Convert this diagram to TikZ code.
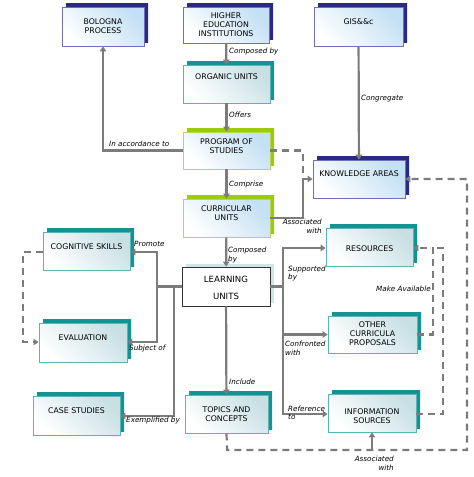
\documentclass[tikz,border=0pt]{standalone}
\usepackage{fontspec}
\setmainfont{DejaVu Sans}
\usetikzlibrary{arrows.meta,shadows}
\definecolor{navyS}{HTML}{2A2A86}
\definecolor{navyB}{HTML}{7070B8}
\definecolor{blueF}{HTML}{C4E0F4}
\definecolor{tealS}{HTML}{139393}
\definecolor{tealB}{HTML}{5AB6B6}
\definecolor{tealF}{HTML}{C8E0E4}
\definecolor{greenS}{HTML}{9ACC0A}
\definecolor{greenB}{HTML}{B8D850}
\definecolor{glowS}{HTML}{CFE6E8}
\definecolor{lineC}{HTML}{7C7C7C}
\tikzset{
  boxbase/.style={rectangle, inner sep=0pt, line width=0.8pt, top color=#1, bottom color=white, shading angle=-45},
  navybox/.style={boxbase=blueF, draw=navyB, copy shadow={shadow xshift=4pt, shadow yshift=3.5pt, fill=navyS, draw=none, top color=navyS, bottom color=navyS}},
  tealbox/.style={boxbase=tealF, draw=tealB, copy shadow={shadow xshift=4pt, shadow yshift=3.5pt, fill=tealS, draw=none, top color=tealS, bottom color=tealS}},
  greenbox/.style={boxbase=blueF, draw=greenB, copy shadow={shadow xshift=4pt, shadow yshift=3.5pt, fill=greenS, draw=none, top color=greenS, bottom color=greenS}},
  plainbox/.style={rectangle, inner sep=0pt, draw=black!80, line width=0.8pt, fill=white, copy shadow={shadow xshift=4pt, shadow yshift=3.5pt, fill=glowS, draw=none}},
  boxtext/.style={align=center, inner sep=0pt, font=\fontsize{7.8}{9}\selectfont},
  lbl/.style={inner sep=0pt, font=\fontsize{7.2}{8.6}\selectfont\itshape},
  conn/.style={draw=lineC, line width=2.2pt},
  arr/.style={conn, -{Triangle[length=5pt,width=6.5pt]}},
  dsh/.style={conn, dash pattern=on 7pt off 5pt},
  darr/.style={dsh, -{Triangle[length=5pt,width=6.5pt]}}
}
\begin{document}
\begin{tikzpicture}[x=1pt,y=-1pt]
\useasboundingbox (0,0) rectangle (474,477);
% boxes
\node[navybox, minimum width=82pt, minimum height=39pt] (bologna) at (103,26.5) {};
\node[navybox, minimum width=86pt, minimum height=36pt] (hei) at (226,25) {};
\node[tealbox, minimum width=87pt, minimum height=38pt] (organic) at (226.5,84) {};
\node[greenbox, minimum width=87pt, minimum height=37pt] (program) at (226.5,150.5) {};
\node[navybox, minimum width=89pt, minimum height=39pt] (gis) at (358.5,26.5) {};
\node[navybox, minimum width=92pt, minimum height=38pt] (knowledge) at (359,179) {};
\node[greenbox, minimum width=87pt, minimum height=38pt] (curricular) at (226.5,218) {};
\node[tealbox, minimum width=87pt, minimum height=38pt] (cognitive) at (86.5,251) {};
\node[plainbox, minimum width=88pt, minimum height=39pt] (learning) at (226,286.5) {};
\node[tealbox, minimum width=87pt, minimum height=38pt] (resources) at (369.5,247) {};
\node[tealbox, minimum width=88pt, minimum height=39pt] (evaluation) at (83,342.5) {};
\node[tealbox, minimum width=87pt, minimum height=39pt] (casestudies) at (76.5,415.5) {};
\node[tealbox, minimum width=83pt, minimum height=38pt] (topics) at (226.5,414) {};
\node[tealbox, minimum width=89pt, minimum height=37pt] (other) at (372.5,334.5) {};
\node[tealbox, minimum width=88pt, minimum height=38pt] (info) at (372,413) {};
% box texts
\node[boxtext] (bologna-t) at (103,26.5) {BOLOGNA\\PROCESS};
\node[boxtext] (hei-t) at (226,25) {HIGHER\\EDUCATION\\INSTITUTIONS};
\node[boxtext] (organic-t) at (226.5,77) {ORGANIC UNITS};
\node[boxtext] (program-t) at (226.5,146.5) {PROGRAM OF\\STUDIES};
\node[boxtext] (gis-t) at (358.5,22) {GIS\&\&c};
\node[boxtext] (knowledge-t) at (359,174) {KNOWLEDGE AREAS};
\node[boxtext] (curricular-t) at (226.5,213) {CURRICULAR\\UNITS};
\node[boxtext] (cognitive-t) at (86.5,247) {COGNITIVE SKILLS};
\node[boxtext, font=\fontsize{8.6}{17}\selectfont] (learning-t) at (226,287.5) {LEARNING\\UNITS};
\node[boxtext] (resources-t) at (369.5,248.5) {RESOURCES};
\node[boxtext] (evaluation-t) at (83,338) {EVALUATION};
\node[boxtext] (casestudies-t) at (76.5,411) {CASE STUDIES};
\node[boxtext] (topics-t) at (226.5,414.5) {TOPICS AND\\CONCEPTS};
\node[boxtext] (other-t) at (372.5,334) {OTHER\\CURRICULA\\PROPOSALS};
\node[boxtext] (info-t) at (372,416) {INFORMATION\\SOURCES};
% junction coordinates
\coordinate (lj) at (157,286.5);
\coordinate (lj2) at (174,286.5);
\coordinate (rj) at (283,286.5);
% solid connectors
\draw[arr] (hei) -- (organic);
\draw[arr] (organic) -- (program);
\draw[arr] (program) -- (curricular);
\draw[arr] (curricular) -- (learning);
\draw[arr] (learning) -- (topics);
\draw[arr] (gis) -- (knowledge);
\draw[arr] (program.west) -- (103,150.5) -- (bologna.south);
\draw[arr] (curricular.east) -- (303,218) -- (303,179) -- (knowledge.west);
\draw[conn] (learning.west) -- (lj);
\draw[arr] (lj) -- (157,252) -- (cognitive.east |- 0,252);
\draw[arr] (lj) -- (157,342) -- (evaluation.east |- 0,342);
\draw[arr] (lj2) -- (174,416) -- (casestudies.east |- 0,416);
\draw[conn] (learning.east) -- (rj);
\draw[arr] (rj) -- (283,248) -- (resources.west |- 0,248);
\draw[arr] (rj) -- (283,414) -- (info.west |- 0,414);
\draw[arr] (283,334.5) -- (other.west);
\draw[arr] (372,450) -- (info.south);
% dashed connectors
\draw[dsh] (program.east) -- (303,150.5) -- (303,176);
\draw[darr] (cognitive.west |- 0,252) -- (23,252) -- (23,342) -- (evaluation.west |- 0,342);
\draw[darr] (other.east) -- (433,334.5) -- (433,248) -- (resources.east |- 0,248);
\draw[dsh] (info.east |- 0,414) -- (443,414) -- (443,248) -- (433,248);
\draw[darr] (topics.south) -- (227,450) -- (467,450) -- (467,179) -- (knowledge.east);
% labels
\node[lbl, anchor=west] (l1) at (229,52) {Composed by};
\node[lbl, anchor=west] (l2) at (229,115) {Offers};
\node[lbl, anchor=west] (l3) at (109,144) {In accordance to};
\node[lbl, anchor=west] (l4) at (361,99) {Congregate};
\node[lbl, anchor=west] (l5) at (229,185) {Comprise};
\node[lbl, anchor=west, align=left] (l6) at (228,255) {Composed\\by};
\node[lbl, anchor=east, align=right] (l7) at (322,226) {Associated\\with};
\node[lbl, anchor=west] (l8) at (134,244) {Promote};
\node[lbl, anchor=west] (l9) at (129,349) {Subject of};
\node[lbl, anchor=west] (l10) at (126,421) {Exemplified by};
\node[lbl, anchor=west] (l11) at (229,382) {Include};
\node[lbl, anchor=west, align=left] (l12) at (288,273.5) {Supported\\by};
\node[lbl, anchor=west] (l13) at (376,289) {Make Available};
\node[lbl, anchor=west, align=left] (l14) at (285,348) {Confronted\\with};
\node[lbl, anchor=west, align=left] (l15) at (288,413) {Reference\\to};
\node[lbl, anchor=east, align=right] (l16) at (394,463.5) {Associated\\with};
\end{tikzpicture}
\end{document}
